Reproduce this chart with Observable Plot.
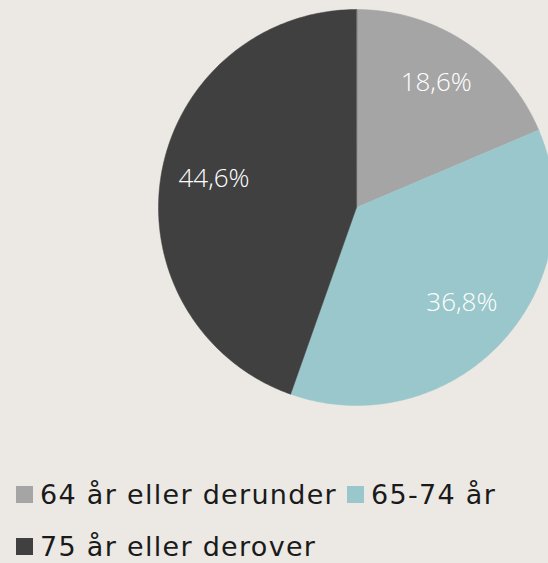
<!DOCTYPE html>
<html><head><meta charset="utf-8">
<script src="https://cdn.jsdelivr.net/npm/d3@7"></script>
<script src="https://cdn.jsdelivr.net/npm/@observablehq/plot@0.6"></script>
<style>
html,body{margin:0;padding:0;background:#ece9e5;overflow:hidden;}
#chart{width:548px;height:420px;}
.legend{font-family:"DejaVu Sans",sans-serif;font-size:27px;letter-spacing:1.3px;color:#1a1a1a;margin-left:16px;line-height:51px;margin-top:48px;}
.item{display:inline-flex;align-items:center;margin-right:10px;white-space:nowrap;}
.sw{display:inline-block;width:17px;height:17px;margin-right:7px;}
</style></head>
<body>
<div id="chart"></div>
<div class="legend" id="legend"></div>
<script>
const categories = ["64 år eller derunder", "65-74 år", "75 år eller derover"];
const values = [18.6, 36.8, 44.6];
const labels = ["18,6%", "36,8%", "44,6%"];
const colors = ["#a5a5a5", "#9ac7cb", "#404040"];

const arcs = d3.pie().sort(null).startAngle(0).endAngle(2 * Math.PI)(values);
const wedges = [];
arcs.forEach((a, i) => {
  wedges.push({cat: categories[i], u: 0, v: 0});
  const n = 180;
  for (let k = 0; k <= n; k++) {
    const t = a.startAngle + (a.endAngle - a.startAngle) * k / n;
    wedges.push({cat: categories[i], u: Math.sin(t), v: Math.cos(t)});
  }
});
const labelR = 0.73;
const labelData = arcs.map((a, i) => {
  const m = (a.startAngle + a.endAngle) / 2;
  return {text: labels[i], u: labelR * Math.sin(m), v: labelR * Math.cos(m)};
});

// pie center at (356, 207), radius 198 px
const W = 548, H = 420, cx = 356, cy = 207, R = 198;
const plot = Plot.plot({
  width: W, height: H,
  margin: 0,
  x: {domain: [-cx / R, (W - cx) / R], axis: null},
  y: {domain: [-(H - cy) / R, cy / R], axis: null},
  color: {domain: categories, range: colors},
  style: {background: "transparent"},
  marks: [
    Plot.line(wedges, {x: "u", y: "v", z: "cat", fill: "cat", stroke: "cat", strokeWidth: 0.5, curve: "linear-closed"}),
    Plot.text(labelData, {x: "u", y: "v", dy: -4, text: "text", fill: "white", fontSize: 26, fontFamily: "Open Sans, sans-serif", fontWeight: 300, letterSpacing: 1.5})
  ]
});
document.getElementById("chart").appendChild(plot);

const leg = document.getElementById("legend");
categories.forEach((c, i) => {
  const s = document.createElement("span");
  s.className = "item";
  s.innerHTML = `<span class="sw" style="background:${colors[i]}"></span>${c}`;
  leg.appendChild(s);
});
</script>
</body></html>
